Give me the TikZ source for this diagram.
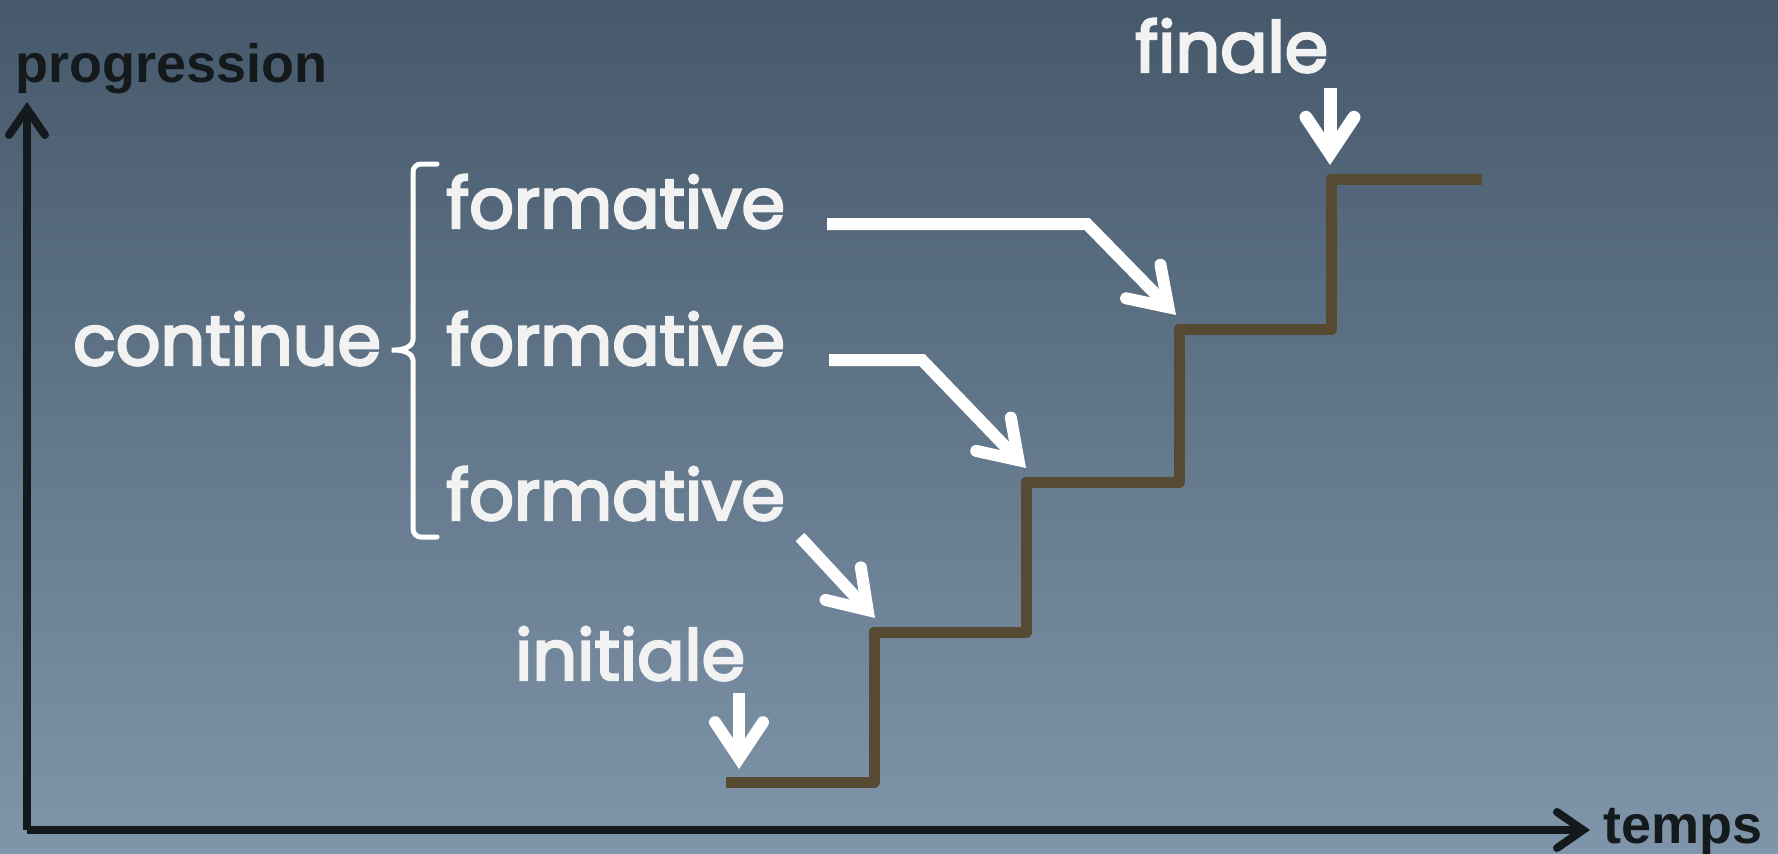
\documentclass[tikz,border=0pt]{standalone}
\usepackage{fontspec}
\usetikzlibrary{arrows.meta}
\newfontfamily\wfont{Poppins}[FakeBold=3.5]
\newfontfamily\axfont{Liberation Sans}
\definecolor{bgtop}{HTML}{46596B}
\definecolor{bgbot}{HTML}{7F95AA}
\definecolor{wtxt}{HTML}{F2F2F2}
\definecolor{axcol}{HTML}{141A1C}
\definecolor{stair}{HTML}{574A33}
\begin{document}
\begin{tikzpicture}[x=1pt,y=-1pt,
 wlabel/.style={anchor=base west, inner sep=0pt, text=wtxt, font=\wfont\fontsize{70}{84}\selectfont},
 axlabel/.style={anchor=base west, inner sep=0pt, text=axcol, font=\axfont\bfseries\fontsize{54}{64}\selectfont},
 axline/.style={axcol, line width=8pt, -{Straight Barb[length=26pt,width=36pt,line cap=round,line join=miter]}},
 warrow/.style={white, line width=12pt, line join=miter, -{Straight Barb[length=36pt,width=48pt,line cap=round,line join=miter]}},
 stairline/.style={stair, line width=11pt, line join=round},
 bracket/.style={white, line width=5pt, line cap=round}
]
\useasboundingbox (0,0) rectangle (1778,854);
\shade[top color=bgtop, bottom color=bgbot] (0,0) rectangle (1778,854);

% axes
\coordinate (O) at (27,830);
\coordinate (ytip) at (27,102);
\coordinate (xtip) at (1590,830);
\draw[axline] (O) -- (ytip);
\draw[axline] (O) -- (xtip);
\node[axlabel] (prog) at (15,82) {progression};
\node[axlabel] (temps) at (1603,843) {temps};

% stair
\draw[stairline] (726,782) -- (874,782) -- (874,632) -- (1026,632) -- (1026,482)
  -- (1179,482) -- (1179,329) -- (1331,329) -- (1331,179) -- (1482,179);

% labels
\node[wlabel] (finale) at (1135,72) {finale};
\node[wlabel] (initiale) at (515,680) {initiale};
\node[wlabel] (f1) at (446,228) {formative};
\node[wlabel] (f2) at (446,365) {formative};
\node[wlabel] (f3) at (446,520) {formative};
\node[wlabel] (cont) at (73,365) {continue};

% bracket
\draw[bracket, rounded corners=8pt] (437,164) -- (413,164) -- (413,332)
  .. controls (413,346) and (404,350) .. (387,350)
  .. controls (404,350) and (413,354) .. (413,368) -- (413,537) -- (437,537);

% arrows
\coordinate (fin1) at (1330,88);
\coordinate (fin2) at (1330,165);
\draw[warrow, line width=13pt] (fin1) -- (fin2);
\coordinate (ini1) at (739,693);
\coordinate (ini2) at (739,769);
\draw[warrow] (ini1) -- (ini2);

\coordinate (a1s) at (827,224);
\coordinate (a1c) at (1087,224);
\coordinate (a1e) at (1176,315);
\draw[warrow] (a1s) -- (a1c) -- (a1e);
\coordinate (a2s) at (829,360);
\coordinate (a2c) at (922,360);
\coordinate (a2e) at (1026,468);
\draw[warrow] (a2s) -- (a2c) -- (a2e);
\coordinate (a3s) at (800,537);
\coordinate (a3e) at (875,618);
\draw[warrow] (a3s) -- (a3e);
\end{tikzpicture}
\end{document}
